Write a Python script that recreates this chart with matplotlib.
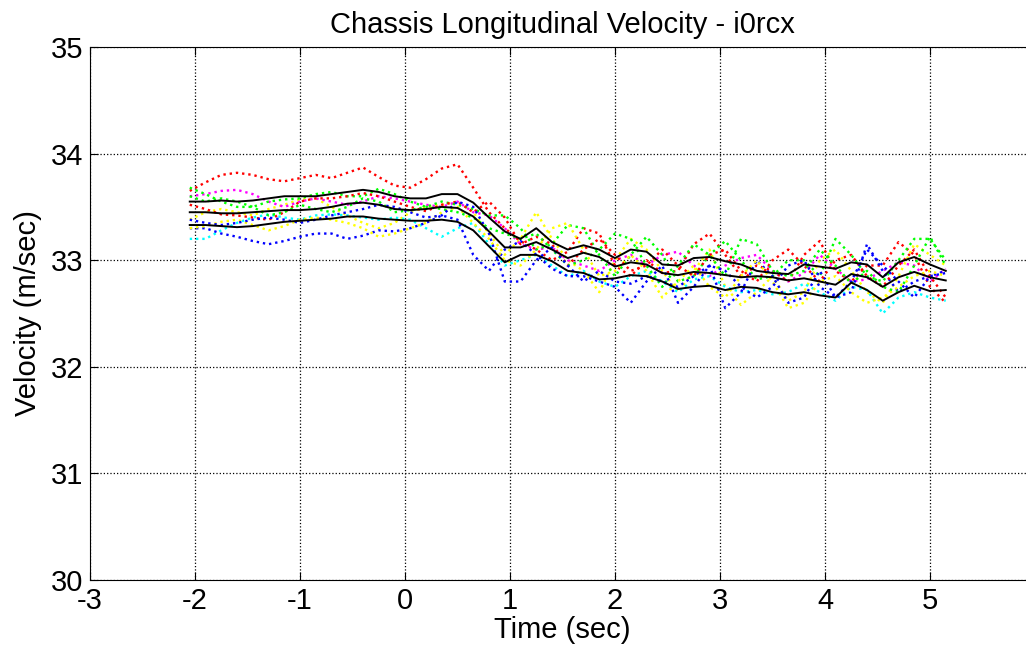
import numpy as np
import matplotlib
matplotlib.use("Agg")
import matplotlib.pyplot as plt

plt.rcParams['font.family'] = ['Liberation Sans', 'DejaVu Sans']
plt.rcParams['axes.unicode_minus'] = False

# time base (sec)
t = np.round(np.arange(-2.05, 5.151, 0.15), 2)

# individual runs (dotted)
red1 = [33.65, 33.73, 33.8, 33.82, 33.8, 33.76, 33.74, 33.77, 33.8, 33.77, 33.82, 33.87, 33.78, 33.7, 33.68, 33.76, 33.86, 33.9, 33.68, 33.45,
        33.3, 33.18, 33.1, 33.0, 33.08, 33.3, 33.25, 32.95, 32.85, 33.0, 32.88, 32.9, 33.15, 33.25, 33.05, 32.85, 32.95, 32.9, 32.8, 33.05,
        33.18, 32.9, 32.8, 32.95, 32.95, 33.17, 33.05, 32.75, 32.6]
red2 = [33.52, 33.48, 33.43, 33.42, 33.4, 33.38, 33.45, 33.55, 33.58, 33.58, 33.6, 33.63, 33.6, 33.55, 33.5, 33.46, 33.52, 33.55, 33.45, 33.55,
        33.4, 33.15, 33.22, 33.15, 32.95, 33.1, 33.2, 33.05, 32.9, 32.95, 33.1, 32.95, 32.85, 33.05, 33.1, 32.9, 32.8, 33.0, 33.1, 32.95,
        32.8, 33.0, 33.05, 32.85, 32.75, 32.95, 33.1, 32.85, 32.65]
green1 = [33.68, 33.62, 33.55, 33.5, 33.5, 33.55, 33.57, 33.58, 33.62, 33.64, 33.6, 33.6, 33.67, 33.62, 33.55, 33.5, 33.55, 33.52, 33.48, 33.42,
          33.42, 33.3, 33.1, 33.15, 33.33, 33.3, 33.05, 32.85, 33.05, 33.22, 33.05, 32.8, 32.85, 33.05, 33.18, 33.0, 32.82, 32.85, 33.0, 33.0,
          32.85, 33.2, 33.05, 32.85, 32.8, 33.0, 33.2, 33.2, 33.0]
green2 = [33.6, 33.55, 33.58, 33.55, 33.5, 33.42, 33.45, 33.52, 33.48, 33.45, 33.5, 33.58, 33.55, 33.45, 33.47, 33.5, 33.48, 33.45, 33.4, 33.3,
          33.25, 33.2, 33.25, 33.1, 32.95, 33.0, 33.1, 33.25, 33.2, 32.95, 32.75, 32.95, 33.15, 33.05, 32.85, 33.2, 33.15, 32.9, 32.85, 32.9,
          33.1, 32.95, 32.78, 32.9, 32.75, 32.7, 32.95, 33.22, 32.95]
blue1 = [33.3, 33.3, 33.25, 33.22, 33.18, 33.15, 33.18, 33.22, 33.25, 33.25, 33.2, 33.23, 33.28, 33.27, 33.3, 33.35, 33.42, 33.38, 33.05, 32.9,
         33.1, 33.18, 33.05, 32.92, 32.85, 32.85, 32.8, 32.75, 32.6, 32.8, 32.95, 32.6, 32.75, 32.95, 32.55, 32.7, 33.0, 32.85, 32.6, 32.65,
         32.9, 32.65, 32.7, 33.15, 32.9, 32.7, 32.8, 32.85, 32.9]
blue2 = [33.38, 33.35, 33.33, 33.35, 33.38, 33.4, 33.38, 33.35, 33.38, 33.42, 33.45, 33.48, 33.52, 33.5, 33.45, 33.4, 33.42, 33.55, 33.5, 33.25,
         32.8, 32.8, 33.0, 33.12, 32.95, 32.8, 32.9, 32.8, 32.78, 32.85, 32.8, 32.75, 32.85, 32.95, 32.9, 32.75, 32.65, 32.75, 32.95, 33.0,
         32.75, 32.65, 32.8, 33.1, 32.95, 32.8, 32.65, 32.85, 32.88]
magenta = [33.6, 33.62, 33.65, 33.66, 33.62, 33.55, 33.5, 33.55, 33.58, 33.55, 33.52, 33.55, 33.6, 33.58, 33.55, 33.52, 33.5, 33.55, 33.45, 33.42,
           33.3, 33.15, 33.1, 33.12, 33.0, 32.95, 32.9, 33.0, 33.05, 32.95, 33.05, 33.08, 32.95, 32.85, 32.95, 33.02, 33.05, 32.9, 32.8, 32.88,
           33.05, 32.92, 32.8, 32.82, 32.9, 32.98, 32.95, 32.8, 32.92]
cyan = [33.2, 33.2, 33.28, 33.35, 33.4, 33.43, 33.4, 33.38, 33.42, 33.43, 33.42, 33.4, 33.38, 33.4, 33.38, 33.3, 33.22, 33.3, 33.35, 33.15,
        32.95, 33.0, 33.05, 32.95, 32.85, 32.9, 32.8, 32.75, 32.85, 32.9, 32.8, 32.7, 32.82, 32.85, 32.75, 32.7, 32.72, 32.68, 32.7, 32.78,
        32.7, 32.62, 32.75, 32.72, 32.5, 32.65, 32.7, 32.65, 32.62]
yellow1 = [33.38, 33.45, 33.48, 33.45, 33.42, 33.48, 33.52, 33.57, 33.58, 33.5, 33.42, 33.35, 33.3, 33.35, 33.45, 33.5, 33.52, 33.55, 33.45, 33.25,
           33.05, 33.2, 33.45, 33.2, 33.0, 32.9, 32.7, 33.0, 33.2, 33.1, 32.9, 32.7, 32.9, 33.1, 32.75, 32.58, 32.7, 32.85, 32.62, 32.7,
           33.0, 33.1, 32.9, 32.7, 32.6, 32.85, 33.15, 33.05, 32.95]
yellow2 = [33.3, 33.32, 33.36, 33.38, 33.33, 33.28, 33.32, 33.38, 33.4, 33.38, 33.35, 33.3, 33.22, 33.25, 33.3, 33.35, 33.45, 33.5, 33.35, 33.2,
           33.0, 32.95, 33.1, 33.3, 33.35, 33.1, 32.85, 32.9, 33.05, 32.9, 32.65, 32.8, 32.95, 32.75, 32.65, 32.85, 33.0, 32.8, 32.55, 32.6,
           32.8, 32.85, 32.7, 32.6, 32.65, 32.75, 32.85, 32.9, 32.85]

# mean and +/- one sigma (solid black)
top_black = [33.55, 33.55, 33.56, 33.55, 33.56, 33.58, 33.6, 33.6, 33.6, 33.62, 33.64, 33.66, 33.64, 33.6, 33.58, 33.58, 33.62, 33.62, 33.54, 33.4,
             33.27, 33.2, 33.3, 33.17, 33.1, 33.14, 33.1, 33.02, 33.1, 33.08, 32.96, 32.95, 33.02, 33.03, 32.99, 32.96, 32.9, 32.88, 32.87, 32.96,
             32.94, 32.92, 32.98, 32.96, 32.84, 32.98, 33.03, 32.96, 32.9]
mid_black = [33.45, 33.45, 33.44, 33.44, 33.45, 33.46, 33.47, 33.47, 33.48, 33.5, 33.53, 33.54, 33.52, 33.48, 33.47, 33.48, 33.5, 33.49, 33.41, 33.27,
             33.12, 33.12, 33.17, 33.1, 33.02, 33.07, 33.03, 32.94, 32.98, 32.96, 32.88, 32.86, 32.89, 32.88, 32.86, 32.84, 32.85, 32.84, 32.81, 32.83,
             32.8, 32.77, 32.87, 32.84, 32.75, 32.84, 32.89, 32.84, 32.81]
bot_black = [33.33, 33.33, 33.32, 33.31, 33.32, 33.34, 33.36, 33.37, 33.38, 33.39, 33.41, 33.41, 33.39, 33.38, 33.37, 33.37, 33.38, 33.36, 33.28, 33.13,
             32.98, 33.05, 33.05, 32.99, 32.9, 32.88, 32.82, 32.83, 32.86, 32.85, 32.8, 32.73, 32.75, 32.76, 32.72, 32.75, 32.74, 32.7, 32.68, 32.7,
             32.67, 32.65, 32.79, 32.72, 32.62, 32.7, 32.76, 32.71, 32.72]

runs = [(yellow1, 'yellow'), (magenta, 'magenta'), (cyan, 'cyan'), (red1, 'red'), (green1, 'lime'), (blue1, 'blue'),
        (yellow2, 'yellow'), (red2, 'red'), (green2, 'lime'), (blue2, 'blue')]

fig = plt.figure(figsize=(10.26, 6.55), dpi=100)
ax = fig.add_axes([90/1026, 75/655, 945/1026, 533/655])

for v, c in runs:
    ax.plot(t, v, linestyle=':', color=c, linewidth=1.7)
for v in (top_black, mid_black, bot_black):
    ax.plot(t, v, color='black', linewidth=1.4)

ax.set_xlim(-3, 6)
ax.set_ylim(30, 35)
ax.set_xticks(np.arange(-3, 6))
ax.set_yticks(np.arange(30, 36))
ax.grid(True, color='black', linestyle=':', linewidth=0.9)
ax.tick_params(direction='in', top=True, right=True, labelsize=21, length=6, pad=5)
ax.set_title('Chassis Longitudinal Velocity - i0rcx', fontsize=21, pad=10)
ax.set_xlabel('Time (sec)', fontsize=21, labelpad=1)
ax.set_ylabel('Velocity (m/sec)', fontsize=21, labelpad=6)

fig.savefig('out.png', dpi=100)
